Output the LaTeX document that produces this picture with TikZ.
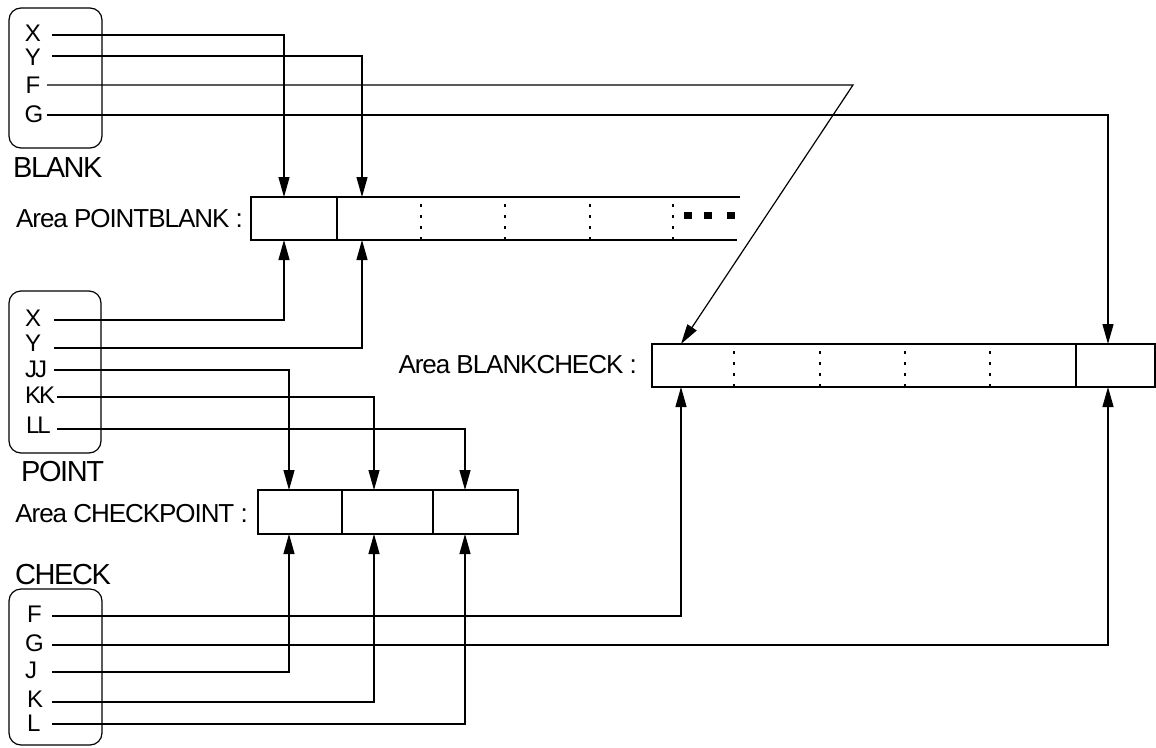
\documentclass[tikz,border=0pt]{standalone}
\usepackage{fontspec}
\setmainfont{Liberation Sans}
\usetikzlibrary{arrows.meta}
\tikzset{
  conn/.style={line width=1.2pt, -{Triangle[length=20pt,width=11pt]}},
  grp/.style={draw, line width=1.2pt, rounded corners=12pt, inner sep=0pt},
  lbl/.style={inner sep=0pt, font=\fontsize{24}{26}\selectfont},
  tightlbl/.style={inner sep=0pt, font=\fontsize{24}{26}\selectfont\addfontfeature{LetterSpace=-9}},
  gname/.style={inner sep=0pt, font=\fontsize{29}{32}\selectfont\addfontfeature{LetterSpace=-5}},
  alabel/.style={inner sep=0pt, font=\fontsize{26}{30}\selectfont\addfontfeature{LetterSpace=-4}},
  cell/.style={line width=1.2pt},
  dotdiv/.style={line width=1.2pt, dash pattern=on 2.5pt off 8.5pt},
}
\begin{document}
\begin{tikzpicture}[x=1pt,y=-1pt]
\useasboundingbox (0,0) rectangle (1156,747);

% ---------- group boxes ----------
\node[grp, minimum width=93pt, minimum height=140pt] (blankbox) at (55.5,78) {};
\node[grp, minimum width=92pt, minimum height=162pt] (pointbox) at (55,372) {};
\node[grp, minimum width=93pt, minimum height=156pt] (checkbox) at (55.5,667) {};

\node[gname, anchor=base west] (blankname) at (13,177) {BLANK};
\node[gname, anchor=base west] (pointname) at (21,481) {POINT};
\node[gname, anchor=base west] (checkname) at (15,584) {CHECK};

% ---------- BLANK labels ----------
\node[lbl] (bX) at (33,33) {X};
\node[lbl] (bY) at (33,57) {Y};
\node[lbl] (bF) at (33,85) {F};
\node[lbl] (bG) at (34,114) {G};
\coordinate (bXs) at (52,35);
\coordinate (bYs) at (52,56);
\coordinate (bFs) at (47,85);
\coordinate (bGs) at (47,115);

% ---------- POINT labels ----------
\node[lbl, anchor=west] (pX) at (25,318) {X};
\node[lbl, anchor=west] (pY) at (25,343) {Y};
\node[tightlbl, anchor=west] (pJJ) at (25,369) {JJ};
\node[tightlbl, anchor=west] (pKK) at (25,395) {KK};
\node[tightlbl, anchor=west] (pLL) at (26,425) {LL};
\coordinate (pXs) at (54,320);
\coordinate (pYs) at (54,348);
\coordinate (pJJs) at (54,370);
\coordinate (pKKs) at (57,397);
\coordinate (pLLs) at (57,429);

% ---------- CHECK labels ----------
\node[lbl, anchor=west] (cF) at (27,614) {F};
\node[lbl, anchor=west] (cG) at (25,643) {G};
\node[lbl, anchor=west] (cJ) at (25,670) {J};
\node[lbl, anchor=west] (cK) at (27,699) {K};
\node[lbl, anchor=west] (cL) at (27,723) {L};
\coordinate (cFs) at (52,616);
\coordinate (cGs) at (52,645);
\coordinate (cJs) at (52,672);
\coordinate (cKs) at (52,702);
\coordinate (cLs) at (52,724);

% ---------- Area POINTBLANK ----------
\node[alabel, anchor=base east] (pblabel) at (243,227) {Area POINTBLANK :};
\draw[cell] (740,197) -- (251,197) -- (251,240) -- (737,240);
\draw[cell] (337,197) -- (337,240);
\foreach \xx in {421,505,590,673} \draw[dotdiv] (\xx,204) -- (\xx,240);
\foreach \xx in {684,704,727} \fill (\xx,212) rectangle ++(8,7);
\coordinate (pbA) at (284,197);
\coordinate (pbB) at (362,197);
\coordinate (pbAb) at (284,240);
\coordinate (pbBb) at (362,240);

% ---------- Area BLANKCHECK ----------
\node[alabel, anchor=base east] (bclabel) at (637,373) {Area BLANKCHECK :};
\draw[cell] (652,344) rectangle (1155,387);
\draw[cell] (1076,344) -- (1076,387);
\foreach \xx in {734,820,905,990} \draw[dotdiv] (\xx,351) -- (\xx,387);
\coordinate (bcF) at (681,344);
\coordinate (bcG) at (1108,344);
\coordinate (bcFb) at (681,387);
\coordinate (bcGb) at (1108,387);

% ---------- Area CHECKPOINT ----------
\node[alabel, anchor=base east] (cplabel) at (248,522) {Area CHECKPOINT :};
\draw[cell] (258,490) rectangle (518,534);
\draw[cell] (342,490) -- (342,534);
\draw[cell] (433,490) -- (433,534);
\coordinate (cpJ) at (289,490);
\coordinate (cpK) at (374,490);
\coordinate (cpL) at (465,490);
\coordinate (cpJb) at (289,534);
\coordinate (cpKb) at (374,534);
\coordinate (cpLb) at (465,534);

% ---------- connectors ----------
\coordinate (fcorner) at (853,85);
\draw[conn] (bXs) -| (pbA);
\draw[conn] (bYs) -| (pbB);
\draw[conn] (bFs) -- (fcorner) -- (bcF);
\draw[conn] (bGs) -| (bcG);

\draw[conn] (pXs) -| (pbAb);
\draw[conn] (pYs) -| (pbBb);
\draw[conn] (pJJs) -| (cpJ);
\draw[conn] (pKKs) -| (cpK);
\draw[conn] (pLLs) -| (cpL);

\draw[conn] (cFs) -| (bcFb);
\draw[conn] (cGs) -| (bcGb);
\draw[conn] (cJs) -| (cpJb);
\draw[conn] (cKs) -| (cpKb);
\draw[conn] (cLs) -| (cpLb);
\end{tikzpicture}
\end{document}
